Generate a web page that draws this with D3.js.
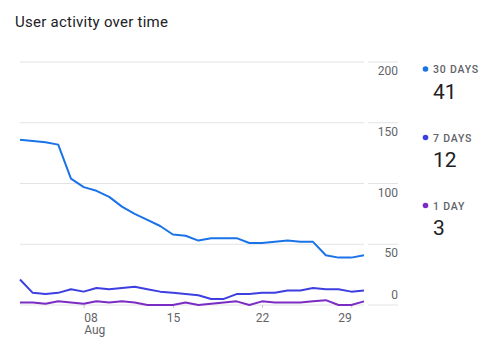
<!DOCTYPE html>
<html>
<head>
<meta charset="utf-8">
<script src="https://cdn.jsdelivr.net/npm/d3@7"></script>
<style>
  html, body { margin: 0; padding: 0; background: #fff; }
  svg { display: block; font-family: Roboto, "Noto Sans", sans-serif; }
</style>
</head>
<body>
<svg id="chart" width="502" height="356"></svg>
<script>
const days = [3,4,5,6,7,8,9,10,11,12,13,14,15,16,17,18,19,20,21,22,23,24,25,26,27,28,29,30];
const thirtyDays = [136,135,134,132,104,97,94,89,81,75,70,65,58,57,53,55,55,55,51,51,52,53,52,52,41,39,39,41];
const sevenDays  = [21,10,9,10,13,11,14,13,14,15,13,11,10,9,8,5,5,9,9,10,10,12,12,14,13,13,11,12];
const oneDay     = [2,2,1,3,2,1,3,2,3,2,0,0,0,2,0,1,2,3,0,3,2,2,2,3,4,0,0,3];
const seriesNames = ["30 DAYS", "7 DAYS", "1 DAY"];
const seriesColors = ["#1a73e8", "#3e3fe0", "#7b2cc4"];
const yTicks = [0, 50, 100, 150, 200];
const xTickDays = [8, 15, 22, 29];
const xTickLabels = [["08", "Aug"], ["15"], ["22"], ["29"]];
const title = "User activity over time";

const svg = d3.select("#chart");
const dates = days.map(d => new Date(2023, 7, d));
const x = d3.scaleTime().domain(d3.extent(dates)).range([20, 364]);
const y = d3.scaleLinear().domain([0, 200]).range([305, 62]);

svg.append("text").attr("x", 15).attr("y", 27)
  .attr("font-size", 15).attr("letter-spacing", "0.25px").attr("fill", "#202124").text(title);

// gridlines (plot part and axis part)
const grid = svg.append("g");
yTicks.forEach(t => {
  grid.append("line").attr("x1", 20).attr("x2", 364).attr("y1", y(t)).attr("y2", y(t))
    .attr("stroke", "#e3e3e3").attr("stroke-width", 1);
  grid.append("line").attr("x1", 368).attr("x2", 398).attr("y1", y(t)).attr("y2", y(t))
    .attr("stroke", "#e3e3e3").attr("stroke-width", 1);
});

// y axis labels
const yAxis = d3.axisRight(y).tickValues(yTicks).tickSize(0).tickPadding(0);
const ya = svg.append("g").attr("transform", "translate(398,0)").call(yAxis);
ya.select(".domain").remove();
ya.selectAll("text").attr("text-anchor", "end").attr("x", 0)
  .attr("font-family", "Roboto").attr("font-size", 12).attr("fill", "#5f6368")
  .attr("dy", d => d === 0 ? "-0.55em" : "1.05em");

// x axis
const xAxis = d3.axisBottom(x).tickValues(xTickDays.map(d => new Date(2023, 7, d)))
  .tickSize(3).tickFormat("");
const xa = svg.append("g").attr("transform", "translate(0,305)").call(xAxis);
xa.select(".domain").remove();
xa.selectAll(".tick line").attr("stroke", "#c8c8c8");
const nT = xTickDays.length;
xa.selectAll(".tick").each(function(d, i) {
  const anchor = i === 0 ? "start" : (i === nT - 1 ? "end" : "middle");
  const t = d3.select(this).append("text").attr("fill", "#5f6368")
    .attr("font-family", "Roboto").attr("font-size", 12).attr("text-anchor", anchor);
  xTickLabels[i].forEach((s, j) => {
    t.append("tspan").attr("x", 0).attr("y", 16.5 + j * 12.5).text(s);
  });
});

// lines
const allSeries = [thirtyDays, sevenDays, oneDay];
const line = d3.line().x((d, i) => x(dates[i])).y(d => y(d));
[2, 1, 0].forEach(k => {
  svg.append("path").datum(allSeries[k]).attr("d", line)
    .attr("fill", "none").attr("stroke", seriesColors[k]).attr("stroke-width", 2)
    .attr("stroke-linejoin", "round");
});

// legend
const legY = [69, 137.5, 205.5];
seriesNames.forEach((name, k) => {
  const g = svg.append("g");
  g.append("circle").attr("cx", 425.5).attr("cy", legY[k]).attr("r", 2.8).attr("fill", seriesColors[k]);
  g.append("text").attr("x", 433).attr("y", legY[k] + 4)
    .attr("font-size", 10.5).attr("font-weight", 500).attr("letter-spacing", "0.8px")
    .attr("fill", "#5f6368").text(name);
  const last = allSeries[k][allSeries[k].length - 1];
  g.append("text").attr("x", 433).attr("y", legY[k] + 29.5)
    .attr("font-size", 21).attr("fill", "#202124").text(last);
});
</script>
</body>
</html>
